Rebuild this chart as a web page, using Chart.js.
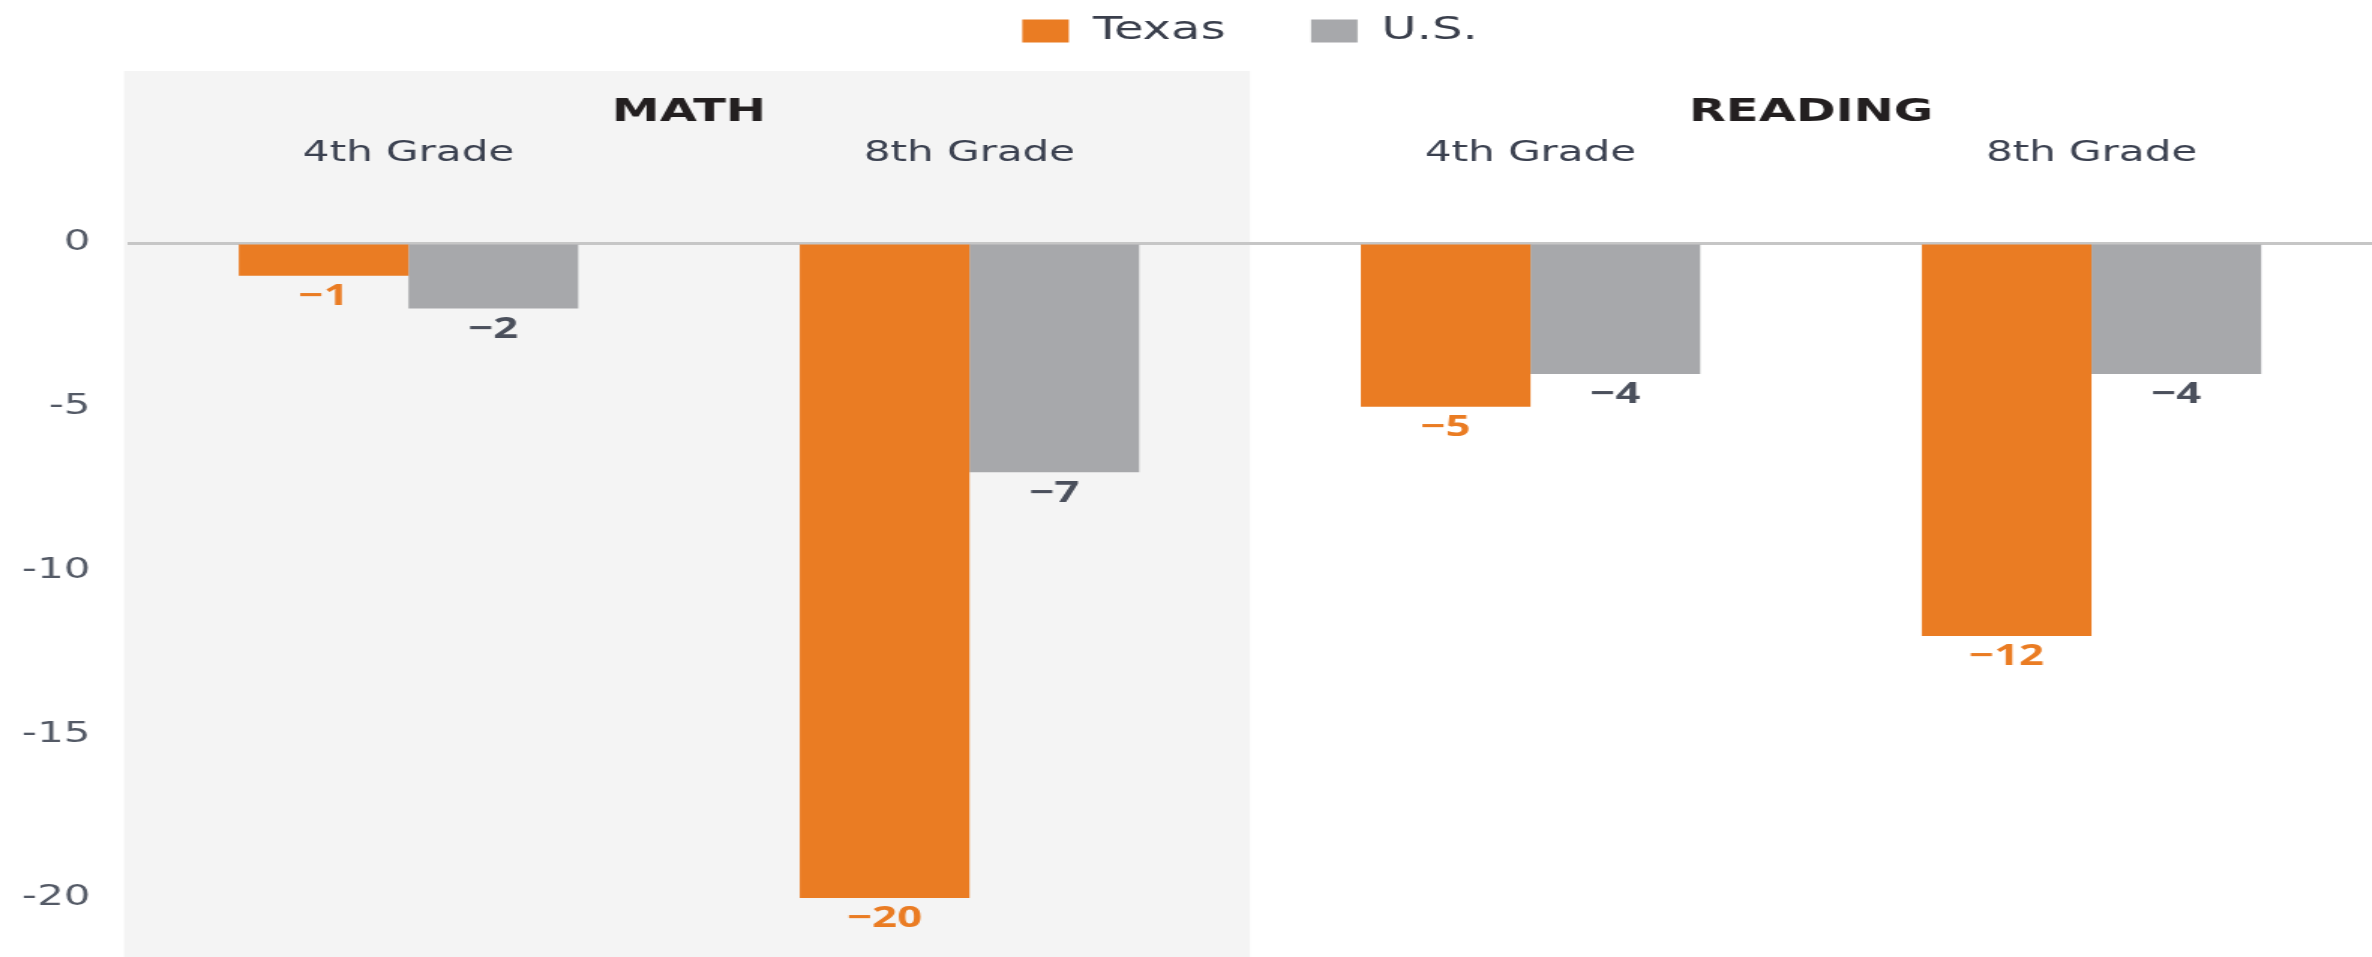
<!DOCTYPE html>
<html>
<head>
<meta charset="utf-8">
<script src="https://cdn.jsdelivr.net/npm/chart.js@4.4.1/dist/chart.umd.min.js"></script>
<style>
  html, body { margin: 0; padding: 0; background: #ffffff; overflow: hidden; }
  #wrap { position: absolute; left: 0; top: 0; width: 1581px; height: 957px;
          transform: scaleX(1.50032); transform-origin: 0 0; }
</style>
</head>
<body>
<div id="wrap"><canvas id="c"></canvas></div>
<script>
const gradeLabels = ['4th Grade', '8th Grade', '4th Grade', '8th Grade'];
const subjectLabels = ['MATH', 'READING'];
const seriesNames = ['Texas', 'U.S.'];
const texasValues = [-1, -20, -5, -12];
const usValues = [-2, -7, -4, -4];
const yTickValues = [0, -5, -10, -15, -20];

const ORANGE = '#ea7c23';
const GRAY = '#a7a8ab';

const panelPlugin = {
  id: 'panel',
  beforeDraw(chart) {
    const {ctx, chartArea} = chart;
    const xs = chart.scales.x, x2 = chart.scales.x2;
    const left = chartArea.left - 2.7;
    const right = xs.getPixelForValue(1.5);
    const top = x2.top + 14;
    ctx.save();
    ctx.fillStyle = '#f4f4f4';
    ctx.fillRect(left, top, right - left, chart.height - top);
    ctx.restore();
  }
};

const labelPlugin = {
  id: 'barLabels',
  afterDatasetsDraw(chart) {
    const {ctx} = chart;
    const colors = [ORANGE, '#4b505c'];
    ctx.save();
    ctx.font = 'bold 29px "Open Sans", "DejaVu Sans", sans-serif';
    ctx.textAlign = 'center';
    ctx.textBaseline = 'middle';
    chart.data.datasets.forEach((ds, di) => {
      const meta = chart.getDatasetMeta(di);
      meta.data.forEach((bar, i) => {
        const v = ds.data[i];
        const txt = (v < 0 ? '\u2212' : '') + Math.abs(v);
        ctx.fillStyle = colors[di];
        ctx.fillText(txt, bar.x, bar.y + 21);
      });
    });
    ctx.restore();
  }
};

new Chart(document.getElementById('c'), {
  type: 'bar',
  data: {
    labels: gradeLabels,
    datasets: [
      { label: seriesNames[0], data: texasValues, backgroundColor: ORANGE, borderWidth: 0, xAxisID: 'x' },
      { label: seriesNames[1], data: usValues, backgroundColor: GRAY, borderWidth: 0, xAxisID: 'x' }
    ]
  },
  options: {
    responsive: true,
    maintainAspectRatio: false,
    animation: false,
    datasets: { bar: { categoryPercentage: 0.605, barPercentage: 1.0 } },
    layout: { padding: { top: -42, left: 0, right: 0, bottom: 0 } },
    plugins: {
      tooltip: { enabled: false },
      legend: {
        position: 'top',
        align: 'center',
        fullSize: false,
        labels: {
          font: { family: '"DejaVu Sans", sans-serif', size: 32 },
          color: '#3a3f4c',
          boxWidth: 31,
          boxHeight: 23,
          padding: 57
        }
      }
    },
    scales: {
      x2: {
        type: 'category',
        labels: subjectLabels,
        position: 'top',
        weight: 2,
        offset: true,
        grid: { display: false, drawTicks: false },
        border: { display: false },
        ticks: {
          font: { family: '"DejaVu Sans", sans-serif', size: 32, weight: 'bold' },
          color: '#231f20',
          padding: 2,
          maxRotation: 0,
          autoSkip: false
        },
        afterFit(scale) { scale.height = 77; }
      },
      x: {
        type: 'category',
        position: 'top',
        weight: 1,
        offset: true,
        grid: { display: false, drawTicks: false },
        border: { display: false },
        ticks: {
          font: { family: '"DejaVu Sans", sans-serif', size: 28 },
          color: '#3b4150',
          padding: 7,
          maxRotation: 0,
          autoSkip: false
        },
        afterFit(scale) { scale.height = 43.5; }
      },
      y: {
        min: -20.525,
        max: 2,
        border: { display: false },
        grid: {
          drawTicks: false,
          lineWidth: 3,
          color: (c) => (c.tick && c.tick.value === 0) ? '#c6c6c6' : 'rgba(0,0,0,0)'
        },
        afterBuildTicks(scale) { scale.ticks = yTickValues.map(v => ({ value: v })); },
        ticks: {
          font: { family: '"DejaVu Sans", sans-serif', size: 28 },
          color: '#545a66',
          padding: 25
        },
        afterFit(scale) { scale.width = 85.3; }
      }
    }
  },
  plugins: [panelPlugin, labelPlugin]
});
</script>
</body>
</html>
